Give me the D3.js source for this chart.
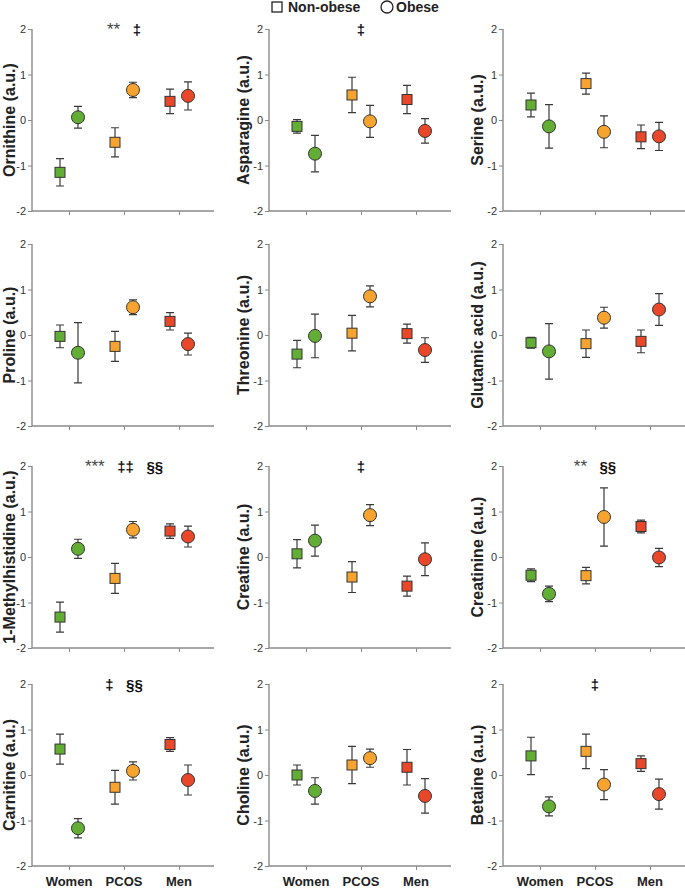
<!DOCTYPE html>
<html><head><meta charset="utf-8">
<script src="https://cdn.jsdelivr.net/npm/d3@7"></script>
<style>html,body{margin:0;padding:0;background:#fff;}svg{display:block;font-family:Arial,"Liberation Sans",sans-serif;}</style>
</head><body>
<svg id="chart" width="685" height="890"></svg>
<script>
const groups = ["Women", "PCOS", "Men"];
const metabolites = ["Ornithine", "Asparagine", "Serine", "Proline", "Threonine", "Glutamic acid",
  "1-Methylhistidine", "Creatine", "Creatinine", "Carnitine", "Choline", "Betaine"];
const nonObeseMean = [
  [-1.15, -0.49, 0.41], [-0.14, 0.55, 0.45], [0.33, 0.80, -0.37],
  [-0.03, -0.25, 0.30], [-0.42, 0.04, 0.03], [-0.17, -0.19, -0.14],
  [-1.32, -0.47, 0.57], [0.07, -0.44, -0.64], [-0.40, -0.41, 0.67],
  [0.57, -0.27, 0.67], [0.00, 0.22, 0.17], [0.42, 0.52, 0.25]];
const nonObeseSem = [
  [0.30, 0.32, 0.27], [0.15, 0.39, 0.31], [0.26, 0.23, 0.26],
  [0.25, 0.33, 0.19], [0.30, 0.39, 0.21], [0.12, 0.30, 0.25],
  [0.33, 0.33, 0.16], [0.31, 0.34, 0.22], [0.14, 0.18, 0.14],
  [0.33, 0.37, 0.15], [0.22, 0.41, 0.39], [0.41, 0.38, 0.17]];
const obeseMean = [
  [0.06, 0.66, 0.53], [-0.74, -0.03, -0.24], [-0.14, -0.26, -0.36],
  [-0.39, 0.61, -0.20], [-0.02, 0.85, -0.33], [-0.36, 0.38, 0.56],
  [0.18, 0.60, 0.45], [0.36, 0.92, -0.05], [-0.81, 0.88, -0.01],
  [-1.17, 0.09, -0.11], [-0.35, 0.37, -0.46], [-0.69, -0.21, -0.42]];
const obeseSem = [
  [0.24, 0.17, 0.31], [0.40, 0.35, 0.27], [0.48, 0.35, 0.31],
  [0.66, 0.16, 0.24], [0.48, 0.23, 0.27], [0.61, 0.23, 0.35],
  [0.21, 0.18, 0.23], [0.34, 0.23, 0.36], [0.17, 0.64, 0.20],
  [0.21, 0.20, 0.33], [0.29, 0.20, 0.38], [0.21, 0.33, 0.33]];
const yTicks = [-2, -1, 0, 1, 2];
const annotations = [["**", "‡"], ["‡"], [], [], [], [], ["***", "‡‡", "§§"], ["‡"], ["**", "§§"], ["‡", "§§"], [], ["‡"]];
const legendLabels = ["Non-obese", "Obese"];
const groupColors = ["#62ae35", "#f7a330", "#e9472a"];

const svg = d3.select("#chart");
const colX = [32, 269, 503];
const rowY = [29, 244, 466, 684];
const labelOff = [23, 26, 26];
const W = 182, H = 182, off = 9;
const axisGray = "#8a8a8a";

// legend
const lg = svg.append("g");
lg.append("rect").attr("x", 272).attr("y", 2).attr("width", 10).attr("height", 10)
  .attr("fill", "#fff").attr("stroke", "#222").attr("stroke-width", 1.3);
lg.append("text").attr("x", 288).attr("y", 12).attr("font-size", 14).attr("font-weight", "bold").attr("fill", "#222").text(legendLabels[0]);
lg.append("circle").attr("cx", 387).attr("cy", 7).attr("r", 6)
  .attr("fill", "#fff").attr("stroke", "#222").attr("stroke-width", 1.3);
lg.append("text").attr("x", 396).attr("y", 12).attr("font-size", 14).attr("font-weight", "bold").attr("fill", "#222").text(legendLabels[1]);

metabolites.forEach((name, i) => {
  const c = i % 3, r = Math.floor(i / 3);
  const ax = colX[c], top = rowY[r];
  const y = d3.scaleLinear().domain([-2, 2]).range([top + H, top]);
  const x = d3.scalePoint().domain(groups).range([ax + 37, ax + 147]);
  const g = svg.append("g");

  // y axis
  const ya = g.append("g").attr("transform", `translate(${ax},0)`)
    .call(d3.axisLeft(y).tickValues(yTicks).tickSize(4).tickPadding(2).tickFormat(d => String(d)));
  ya.select(".domain").attr("stroke", axisGray).attr("stroke-width", 1.4).attr("d", `M0,${top}V${top + H}`);
  ya.selectAll(".tick line").attr("stroke", axisGray);
  ya.selectAll(".tick text").attr("font-size", 11).attr("fill", "#333").attr("font-family", "Arial, Liberation Sans, sans-serif");

  // x axis
  const xa = g.append("g").attr("transform", `translate(0,${top + H})`)
    .call(d3.axisBottom(x).tickSize(4).tickFormat(""));
  xa.select(".domain").attr("stroke", axisGray).attr("stroke-width", 1.4).attr("d", `M${ax},0H${ax + W}`);
  xa.selectAll(".tick line").attr("stroke", axisGray);

  if (r === 3) {
    g.selectAll(".cat").data(groups).enter().append("text")
      .attr("x", d => x(d)).attr("y", 886).attr("text-anchor", "middle")
      .attr("font-size", 13).attr("font-weight", "bold").attr("fill", "#222").text(d => d);
  }

  // y label
  g.append("text").attr("transform", `translate(${ax - labelOff[c]},${top + H / 2}) rotate(-90)`)
    .attr("text-anchor", "middle").attr("dominant-baseline", "central")
    .attr("font-size", 16).attr("font-weight", "bold").attr("fill", "#222").text(name + " (a.u.)");

  // annotations
  if (annotations[i].length) {
    const t = g.append("text").attr("x", x("PCOS")).attr("y", y(2) + 6).attr("text-anchor", "middle");
    annotations[i].forEach((s, k) => {
      const isStar = s.indexOf("*") >= 0;
      t.append("tspan").attr("font-size", isStar ? 17 : 15).attr("font-weight", isStar ? "normal" : "bold")
        .attr("fill", isStar ? "#444" : "#111")
        .text((k > 0 ? "\u00a0\u00a0\u00a0" : "") + s);
    });
  }

  const pts = [];
  groups.forEach((gname, j) => {
    pts.push({ type: "sq", x: x(gname) - off, m: nonObeseMean[i][j], s: nonObeseSem[i][j], col: groupColors[j] });
    pts.push({ type: "ci", x: x(gname) + off, m: obeseMean[i][j], s: obeseSem[i][j], col: groupColors[j] });
  });
  const eb = g.append("g").attr("stroke", "#3a3a3a").attr("stroke-width", 1.2).attr("fill", "none");
  pts.forEach(p => {
    eb.append("path").attr("d",
      `M${p.x},${y(p.m + p.s)}V${y(p.m - p.s)}M${p.x - 4},${y(p.m + p.s)}H${p.x + 4}M${p.x - 4},${y(p.m - p.s)}H${p.x + 4}`);
  });
  pts.forEach(p => {
    if (p.type === "sq") {
      g.append("rect").attr("x", p.x - 5).attr("y", y(p.m) - 5).attr("width", 10).attr("height", 10)
        .attr("fill", p.col).attr("stroke", "#333").attr("stroke-width", 1);
    } else {
      g.append("circle").attr("cx", p.x).attr("cy", y(p.m)).attr("r", 6.5)
        .attr("fill", p.col).attr("stroke", "#333").attr("stroke-width", 1);
    }
  });
});
</script>
</body></html>
